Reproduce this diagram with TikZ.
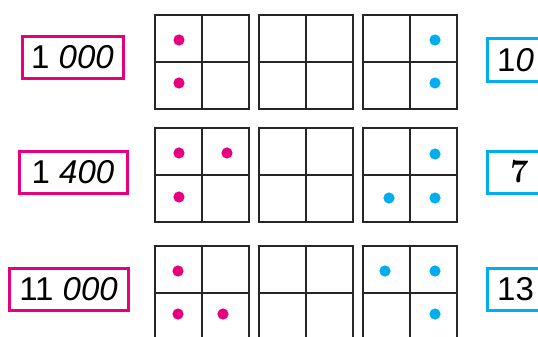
\documentclass[tikz,border=0pt]{standalone}
\usepackage{fontspec}
\setsansfont{Liberation Sans}
\usepackage{tikz}
\definecolor{dotpink}{HTML}{E6007E}
\definecolor{dotblue}{HTML}{00AEEF}

\begin{document}
\begin{tikzpicture}[x=1pt,y=-1pt,
		cellgrid/.style={draw=black!85, line width=1.7pt},
		numbox/.style={line width=3pt, inner sep=0pt, minimum height=42pt, font=\sffamily\fontsize{33}{33}\selectfont},
		pinkbox/.style={numbox, draw=dotpink},
		bluebox/.style={numbox, draw=dotblue, anchor=west, minimum width=56pt}]
			\useasboundingbox (0,0) rectangle (538,337);
			\clip (0,0) rectangle (538,337);
			% the nine grids
			\foreach \top in {15,128,246} {
				\foreach \left in {155,259,363} {
					\draw [cellgrid] (\left,\top) rectangle ++(94,94);
					\draw [cellgrid] (\left+47,\top) -- ++(0,94);
					\draw [cellgrid] (\left,\top+47) -- ++(94,0);
				}
			}
			% dots
			\foreach \p in {(179,40),(179,83),(179,153),(227,153),(179,197),(178,271),(178,314),(223,314)}
				\fill [dotpink] \p circle (5.6);
			\foreach \p in {(435,40),(435,83),(435,154),(389,198),(435,198),(385,271),(435,271),(435,314)}
				\fill [dotblue] \p circle (5.6);
			% labels
			\node [pinkbox, minimum width=101pt] (l1) at (72.5,57.5) {1 \textit{000}};
			\node [pinkbox, minimum width=108pt] (l2) at (73,172) {1 \textit{400}};
			\node [pinkbox, minimum width=119pt] (l3) at (68.5,289) {11 \textit{000}};
			\node [bluebox] (r1) at (486,60) {1\textit{0}};
			\node [bluebox, minimum width=64pt, font=\rmfamily\bfseries\fontsize{33}{33}\selectfont] (r2) at (486,172) {7};
			\node [bluebox] (r3) at (486,289) {13};
		\end{tikzpicture}
\end{document}
